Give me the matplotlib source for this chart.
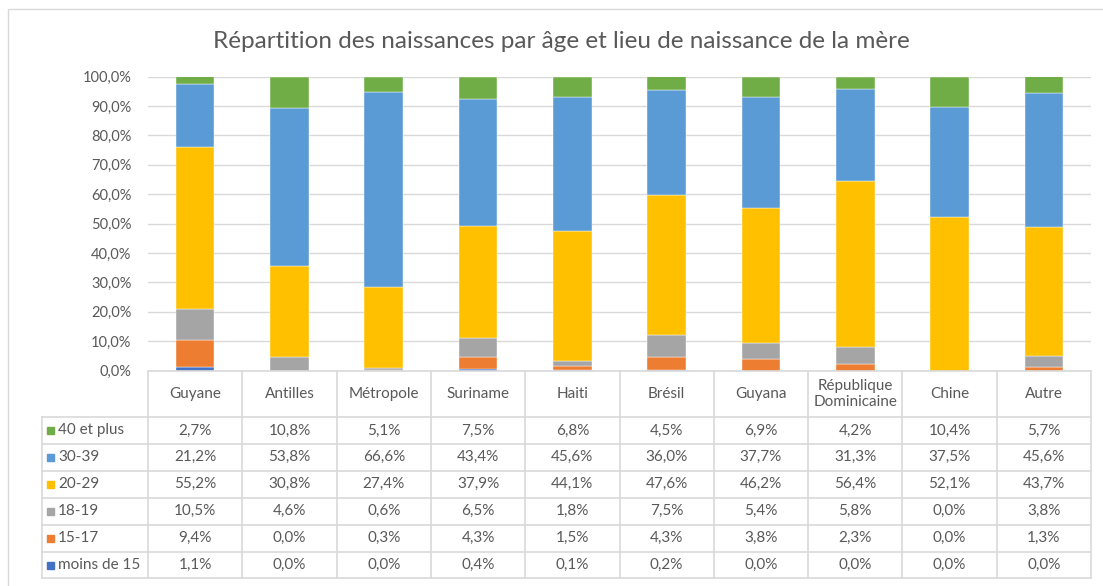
import matplotlib
matplotlib.use("Agg")
import matplotlib.pyplot as plt
from matplotlib.lines import Line2D
from matplotlib.patches import Rectangle
import numpy as np

plt.rcParams['font.family'] = ['Lato', 'DejaVu Sans']

title = "Répartition des naissances par âge et lieu de naissance de la mère"
categories = ["Guyane", "Antilles", "Métropole", "Suriname", "Haiti", "Brésil",
              "Guyana", "République\nDominicaine", "Chine", "Autre"]
series_names = ["moins de 15", "15-17", "18-19", "20-29", "30-39", "40 et plus"]
moins_15 = [1.1, 0.0, 0.0, 0.4, 0.1, 0.2, 0.0, 0.0, 0.0, 0.0]
a15_17 = [9.4, 0.0, 0.3, 4.3, 1.5, 4.3, 3.8, 2.3, 0.0, 1.3]
a18_19 = [10.5, 4.6, 0.6, 6.5, 1.8, 7.5, 5.4, 5.8, 0.0, 3.8]
a20_29 = [55.2, 30.8, 27.4, 37.9, 44.1, 47.6, 46.2, 56.4, 52.1, 43.7]
a30_39 = [21.2, 53.8, 66.6, 43.4, 45.6, 36.0, 37.7, 31.3, 37.5, 45.6]
a40_plus = [2.7, 10.8, 5.1, 7.5, 6.8, 4.5, 6.9, 4.2, 10.4, 5.7]
colors = ["#4472C4", "#ED7D31", "#A5A5A5", "#FFC000", "#5B9BD5", "#70AD47"]
yticks = [0, 10, 20, 30, 40, 50, 60, 70, 80, 90, 100]

series = [moins_15, a15_17, a18_19, a20_29, a30_39, a40_plus]

W, H = 1103, 586
fig = plt.figure(figsize=(W / 100, H / 100), dpi=100)

def fx(x):
    return x / W

def fy(y):
    return 1 - y / H

# plot area
x0, x1 = 148, 1091
y_top, y_bot = 76.7, 370.5
ax = fig.add_axes([fx(x0), fy(y_bot), fx(x1) - fx(x0), fy(y_top) - fy(y_bot)])

txt = "#595959"
grid = "#D9D9D9"

xs = np.arange(len(categories))
bottom = np.zeros(len(categories))
for vals, c in zip(series, colors):
    v = np.array(vals)
    ax.bar(xs, v, width=0.41, bottom=bottom, color=c, edgecolor="white",
           linewidth=0.3, zorder=3)
    bottom += v

ax.set_xlim(-0.5, len(categories) - 0.5)
ax.set_ylim(0, 100)
ax.set_yticks(yticks)
ax.set_yticklabels([f"{t:.1f}%".replace(".", ",") for t in yticks], color=txt, fontsize=10.5)
ax.set_xticks([])
ax.tick_params(axis="y", length=0, pad=12)
for s in ax.spines.values():
    s.set_visible(False)
ax.yaxis.grid(True, color=grid, linewidth=1, zorder=0)

fig.text(fx(561), fy(42), title, ha="center", va="center", fontsize=17.5, color=txt)

# table
col_w = (x1 - x0) / len(categories)
hdr_top, hdr_bot = 371, 417
row_h = 26.9
tbl_left = 42
nrows = len(series_names)
tbl_bottom = hdr_bot + nrows * row_h
lc = "#D9D9D9"

def hline(y, xa, xb):
    fig.add_artist(Line2D([fx(xa), fx(xb)], [fy(y), fy(y)], color=lc, lw=1.2,
                          transform=fig.transFigure))

def vline(x, ya, yb):
    fig.add_artist(Line2D([fx(x), fx(x)], [fy(ya), fy(yb)], color=lc, lw=1.2,
                          transform=fig.transFigure))

hline(hdr_top, x0, x1)
for i in range(nrows + 1):
    hline(hdr_bot + i * row_h, tbl_left, x1)
for j in range(len(categories) + 1):
    vline(x0 + j * col_w, hdr_top, tbl_bottom)
vline(tbl_left, hdr_bot, tbl_bottom)

for j, cat in enumerate(categories):
    fig.text(fx(x0 + (j + 0.5) * col_w), fy((hdr_top + hdr_bot) / 2), cat,
             ha="center", va="center", fontsize=11, color=txt, linespacing=1.1)

row_order = list(range(nrows))[::-1]
for r, si in enumerate(row_order):
    yc = hdr_bot + (r + 0.5) * row_h
    fig.add_artist(Rectangle((fx(47), fy(yc + 4)), fx(7), 7 / H,
                             color=colors[si], transform=fig.transFigure))
    fig.text(fx(58), fy(yc), series_names[si], ha="left", va="center",
             fontsize=11, color=txt)
    for j in range(len(categories)):
        fig.text(fx(x0 + (j + 0.5) * col_w), fy(yc),
                 f"{series[si][j]:.1f}%".replace(".", ","),
                 ha="center", va="center", fontsize=11, color=txt)

# chart area border (extends past right and bottom edges, as in the reference)
fig.add_artist(Rectangle((fx(8), fy(600)), fx(1120) - fx(8), fy(9) - fy(600),
                         fill=False, edgecolor="#D9D9D9", lw=1,
                         transform=fig.transFigure, clip_on=False))

fig.savefig("out.png", dpi=100)
